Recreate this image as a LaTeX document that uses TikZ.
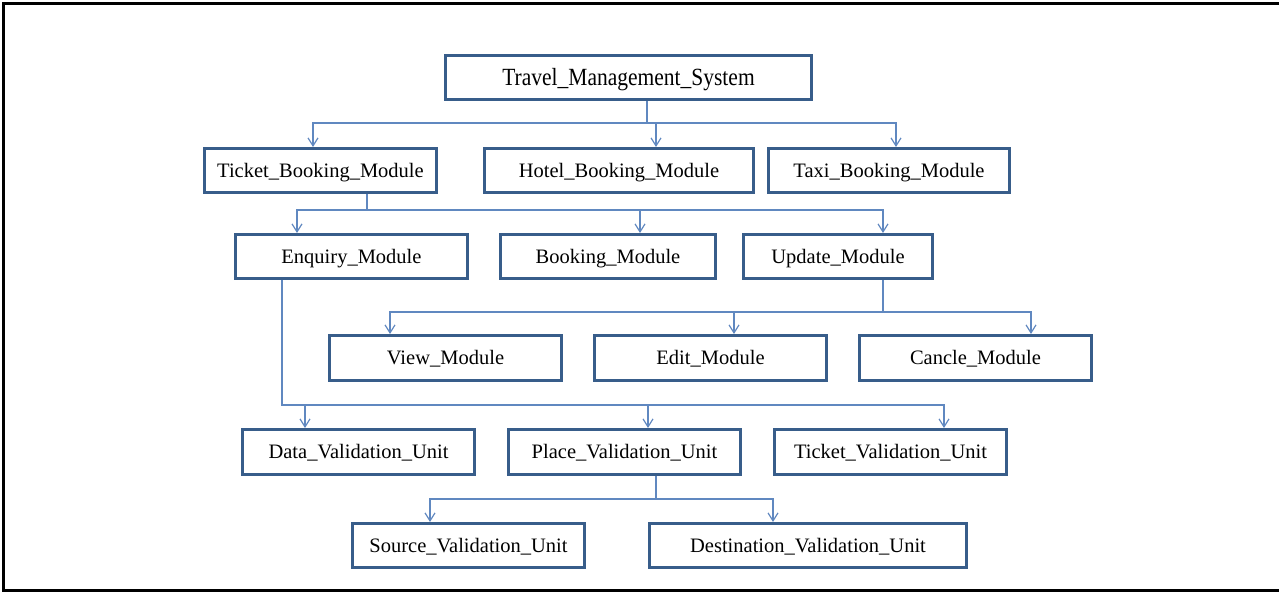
\documentclass[tikz,border=0pt]{standalone}
\usepackage{fontspec}
\setmainfont{Liberation Serif}
\usepackage{graphicx}
\usetikzlibrary{arrows.meta}
\definecolor{boxblue}{RGB}{56,93,138}
\definecolor{linkblue}{RGB}{96,136,192}
\begin{document}
\begin{tikzpicture}[x=1pt,y=-1pt,
  box/.style={draw=boxblue, line width=3pt, fill=white, inner sep=0pt,
    minimum height=44pt, text height=13.6pt, text depth=0pt,
    font=\fontsize{20.5}{24}\selectfont},
  link/.style={draw=linkblue, line width=1.2pt},
  arr/.style={link, -{Straight Barb[length=8pt,width=10pt]}}]
\useasboundingbox (0,0) rectangle (1279,592);
\draw[line width=3pt] (1279,3) -- (3,3) -- (3,590.5) -- (1279,590.5);

% nodes
\node[box, minimum width=366pt, text height=16.4pt] (tms) at (628.5,77.5)
  {\scalebox{1}[1.15]{\fontsize{21.5}{24}\selectfont Travel\_Management\_System}};
\node[box, minimum width=232pt] (ticket) at (320.5,170.5) {Ticket\_Booking\_Module};
\node[box, minimum width=269pt] (hotel) at (619,170.5) {Hotel\_Booking\_Module};
\node[box, minimum width=241pt] (taxi) at (889,170.5) {Taxi\_Booking\_Module};
\node[box, minimum width=232pt] (enq) at (351.5,256.5) {Enquiry\_Module};
\node[box, minimum width=215pt] (book) at (608,256.5) {Booking\_Module};
\node[box, minimum width=189pt] (upd) at (838,256.5) {Update\_Module};
\node[box, minimum width=232pt, minimum height=45pt] (view) at (445.5,358) {View\_Module};
\node[box, minimum width=232pt, minimum height=45pt] (edit) at (710.5,358) {Edit\_Module};
\node[box, minimum width=232pt, minimum height=45pt] (cancle) at (975.5,358) {Cancle\_Module};
\node[box, minimum width=232pt, minimum height=45pt] (data) at (358.5,452) {Data\_Validation\_Unit};
\node[box, minimum width=232pt, minimum height=45pt] (place) at (624.5,452) {Place\_Validation\_Unit};
\node[box, minimum width=232pt, minimum height=45pt] (ticketv) at (890.5,452) {Ticket\_Validation\_Unit};
\node[box, minimum width=232pt] (source) at (468.5,545.5) {Source\_Validation\_Unit};
\node[box, minimum width=317pt] (dest) at (808,545.5) {Destination\_Validation\_Unit};

% junctions and tip columns
\coordinate (j1) at (647,123);
\coordinate (a1) at (313,123); \coordinate (a2) at (656,123); \coordinate (a3) at (896,123);
\coordinate (j2) at (367,210);
\coordinate (b1) at (297,210); \coordinate (b2) at (640,210); \coordinate (b3) at (883,210);
\coordinate (j3) at (883,312);
\coordinate (c1) at (390,312); \coordinate (c2) at (734,312); \coordinate (c3) at (1031,312);
\coordinate (j4) at (282,405);
\coordinate (d1) at (305,405); \coordinate (d2) at (648,405); \coordinate (d3) at (944,405);
\coordinate (j5) at (656,499);
\coordinate (e1) at (430,499); \coordinate (e2) at (773,499);

% connectors
\draw[arr] (tms.south -| j1) -- (j1) -- (a1) -- (a1 |- ticket.north);
\draw[arr] (tms.south -| j1) -- (j1) -- (a2) -- (a2 |- hotel.north);
\draw[arr] (tms.south -| j1) -- (j1) -- (a3) -- (a3 |- taxi.north);

\draw[arr] (ticket.south -| j2) -- (j2) -- (b1) -- (b1 |- enq.north);
\draw[arr] (ticket.south -| j2) -- (j2) -- (b2) -- (b2 |- book.north);
\draw[arr] (ticket.south -| j2) -- (j2) -- (b3) -- (b3 |- upd.north);

\draw[arr] (upd.south -| j3) -- (j3) -- (c1) -- (c1 |- view.north);
\draw[arr] (upd.south -| j3) -- (j3) -- (c2) -- (c2 |- edit.north);
\draw[arr] (upd.south -| j3) -- (j3) -- (c3) -- (c3 |- cancle.north);

\draw[arr] (enq.south -| j4) -- (j4) -- (d1) -- (d1 |- data.north);
\draw[arr] (enq.south -| j4) -- (j4) -- (d2) -- (d2 |- place.north);
\draw[arr] (enq.south -| j4) -- (j4) -- (d3) -- (d3 |- ticketv.north);

\draw[arr] (place.south -| j5) -- (j5) -- (e1) -- (e1 |- source.north);
\draw[arr] (place.south -| j5) -- (j5) -- (e2) -- (e2 |- dest.north);
\end{tikzpicture}
\end{document}
